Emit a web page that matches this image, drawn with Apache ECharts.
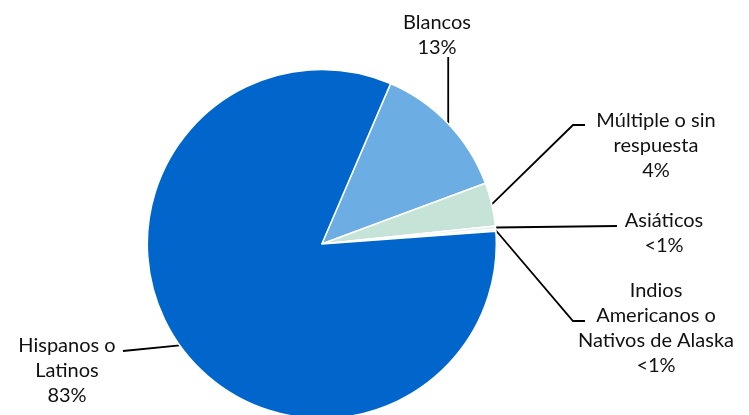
<!DOCTYPE html>
<html>
<head>
<meta charset="utf-8">
<script src="https://cdn.jsdelivr.net/npm/echarts@6/dist/echarts.min.js"></script>
<style>
html,body{margin:0;padding:0;background:#fff;}
#chart{width:749px;height:415px;}
</style>
</head>
<body>
<div id="chart"></div>
<script>
const categories = ['Blancos', 'Múltiple o sin\nrespuesta', 'Asiáticos', 'Indios\nAmericanos o\nNativos de Alaska', 'Hispanos o\nLatinos'];
const values = [12.9, 4.0, 0.3, 0.2, 82.6];
const colors = ['#6CADE4', '#C5E4D7', '#E9F0EC', '#DDE8F3', '#0066CC'];

// label placement (block center x, block top y) and label line bends
const labelPos = [[437, 10], [656, 108], [664, 208], [656, 278], [67, 333]];
const lineBends = [
  [[null, 57]],
  [[573, 125], [585, 125]],
  [[617, 226]],
  [[573, 321], [585, 321]],
  [[123, 351]]
];

const chart = echarts.init(document.getElementById('chart'));
chart.setOption({
  animation: false,
  series: [{
    type: 'pie',
    center: [321.8, 244],
    radius: 174.5,
    startAngle: 66.8,
    clockwise: true,
    avoidLabelOverlap: false,
    data: categories.map((c, i) => ({ name: c, value: values[i], itemStyle: { color: colors[i] } })),
    itemStyle: { borderColor: '#ffffff', borderWidth: 1.5 },
    label: {
      show: true,
      formatter: p => p.name + '\n' + (p.value < 1 ? '<1%' : Math.round(p.value) + '%'),
      fontFamily: 'Lato',
      fontSize: 20,
      lineHeight: 25,
      color: '#111',
      align: 'center'
    },
    labelLine: { show: true, lineStyle: { color: '#000', width: 1.8 } },
    labelLayout: function (params) {
      const i = params.dataIndex;
      const p0 = params.labelLinePoints ? params.labelLinePoints[0] : [0, 0];
      const pts = [p0.slice()];
      lineBends[i].forEach(b => pts.push([b[0] === null ? p0[0] : b[0], b[1]]));
      return {
        x: labelPos[i][0],
        y: labelPos[i][1],
        align: 'center',
        verticalAlign: 'top',
        labelLinePoints: pts
      };
    }
  }]
});
</script>
</body>
</html>
